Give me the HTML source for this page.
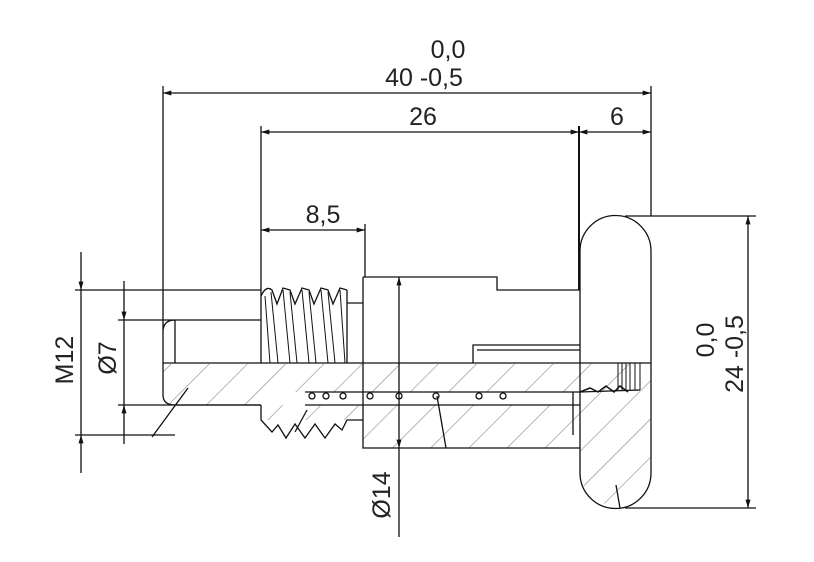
<!DOCTYPE html>
<html><head><style>body{margin:0;background:#fff}svg{display:block}text{font-family:"Liberation Sans",sans-serif;font-size:25px;fill:#222}</style></head><body>
<svg width="814" height="562" viewBox="0 0 814 562" xmlns="http://www.w3.org/2000/svg">
<defs>
<pattern id="h" width="27" height="27" patternUnits="userSpaceOnUse" patternTransform="rotate(45)">
<line x1="0" y1="0" x2="0" y2="27" stroke="#888" stroke-width="1.2"/></pattern>
<marker id="a" viewBox="0 0 10 6" refX="10" refY="3" markerWidth="14" markerHeight="5" orient="auto-start-reverse" markerUnits="userSpaceOnUse"><path d="M0,0L10,3L0,6z" fill="#111"/></marker>
</defs>
<g fill="url(#h)" stroke="none">
<rect x="163" y="364" width="488" height="28"/>
<rect x="163" y="392" width="100" height="13"/>
<rect x="363" y="405" width="217" height="43"/>
<rect x="261" y="405" width="102" height="15"/>
<path d="M580,392 L651,392 L651,470 A35,35 0 0 1 580,470Z"/>
</g>
<rect x="305" y="392" width="275" height="13" fill="#fff"/>
<g stroke="#111" stroke-width="1.3" fill="none">
<line x1="163" y1="93" x2="651" y2="93" marker-start="url(#a)" marker-end="url(#a)"/>
<line x1="261" y1="132" x2="579" y2="132" marker-start="url(#a)" marker-end="url(#a)"/>
<line x1="579" y1="132" x2="651" y2="132" marker-start="url(#a)" marker-end="url(#a)"/>
<line x1="261" y1="230" x2="365" y2="230" marker-start="url(#a)" marker-end="url(#a)"/>
<line x1="163" y1="86" x2="163" y2="320"/>
<line x1="651" y1="86" x2="651" y2="216"/>
<line x1="261" y1="126" x2="261" y2="290"/>
<line x1="579" y1="126" x2="579" y2="290" stroke-width="2"/>
<line x1="365" y1="224" x2="365" y2="277"/>
<line x1="748" y1="216" x2="748" y2="508" marker-start="url(#a)" marker-end="url(#a)"/>
<line x1="625" y1="216" x2="756" y2="216"/>
<line x1="625" y1="508" x2="756" y2="508"/>
<line x1="81" y1="252" x2="81" y2="290" marker-end="url(#a)"/>
<line x1="81" y1="290" x2="81" y2="435"/>
<line x1="81" y1="473" x2="81" y2="435" marker-end="url(#a)"/>
<line x1="75" y1="290" x2="261" y2="290"/>
<line x1="75" y1="435" x2="175" y2="435"/>
<line x1="124" y1="281" x2="124" y2="320" marker-end="url(#a)"/>
<line x1="124" y1="320" x2="124" y2="405"/>
<line x1="124" y1="444" x2="124" y2="405" marker-end="url(#a)"/>
<line x1="118" y1="320" x2="175" y2="320"/>
<line x1="118" y1="405" x2="261" y2="405"/>
<line x1="399" y1="277" x2="399" y2="448" marker-start="url(#a)" marker-end="url(#a)"/>
<line x1="399" y1="448" x2="399" y2="537"/>
<path d="M175,320 H261 M175,320 V363 M163,332 Q163,320 175,320 M163,320 V395 Q163,405 175,405 H261"/>
<line x1="163" y1="363" x2="651" y2="363"/>
<path d="M261,290 V363 M347,290 V363 M347,303 H363"/>
<path d="M261,296 Q266,285 272,290 L277,304 L283,288 L290,290 L295,304 L302,288 L309,290 L314,304 L321,288 L328,290 L333,304 L340,288 L347,290"/>
<g stroke-width="1">
<path d="M265,296 L270,363 M271,292 L278,363 M283,290 L290,363 M290,292 L297,363 M302,290 L309,363 M309,292 L316,363 M321,290 L328,363 M328,292 L335,363 M340,290 L345,363"/>
</g>
<path d="M363,277 H497 V290 H580 M363,277 V448 H580"/>
<path d="M473,363 V345 H580 M477,350 H580"/>
<path d="M261,405 V420 L272,432 L278,425 L286,438 L295,424 L305,438 L315,424 L325,438 L335,424 L342,430 L347,420 H363"/>
<line x1="305" y1="392" x2="580" y2="392"/>
<line x1="305" y1="405" x2="580" y2="405"/>
<line x1="573" y1="392" x2="573" y2="435"/>
<path d="M580,251 A35,35 0 0 1 651,251 V473 A35,35 0 0 1 580,473 Z" fill="none"/>
<path d="M580,392 L590,388 L598,392 L606,386 L614,392 L620,386 L628,392" stroke-width="1.5"/>
<path d="M618,363 V390 M622,363 V390 M626,363 V390 M630,363 V390 M635,363 V390 M640,363 V390" stroke-width="1"/>
<line x1="640" y1="390" x2="580" y2="392"/>
<path d="M188,388 L152,437 M437,396 L446,448 M616,485 L620,508 M307,410 L295,432"/>
<g fill="none"><circle cx="312" cy="396" r="3"/><circle cx="326" cy="396" r="3"/><circle cx="343" cy="396" r="3"/><circle cx="370" cy="396" r="3"/><circle cx="399" cy="396" r="3"/><circle cx="436" cy="396" r="3"/><circle cx="479" cy="396" r="3"/><circle cx="503" cy="396" r="3"/></g>
</g>
<text x="448" y="58" text-anchor="middle">0,0</text>
<text x="424" y="86" text-anchor="middle">40 -0,5</text>
<text x="423" y="125" text-anchor="middle">26</text>
<text x="617" y="125" text-anchor="middle">6</text>
<text x="323" y="223" text-anchor="middle">8,5</text>
<text transform="translate(73,360) rotate(-90)" text-anchor="middle">M12</text>
<text transform="translate(116,358) rotate(-90)" text-anchor="middle">Ø7</text>
<text transform="translate(390,495) rotate(-90)" text-anchor="middle">Ø14</text>
<text transform="translate(714,340) rotate(-90)" text-anchor="middle">0,0</text>
<text transform="translate(743,354) rotate(-90)" text-anchor="middle">24 -0,5</text>
</svg>
</body></html>
